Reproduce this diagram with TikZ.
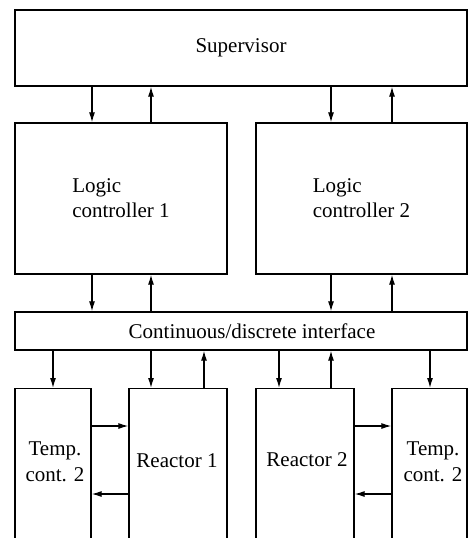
\documentclass[tikz,border=0pt]{standalone}
\usepackage{fontspec}
\setmainfont{Liberation Serif}
\usetikzlibrary{arrows.meta,positioning}
\tikzset{
	block/.style={
		draw,
		line width=1.3pt,
		inner sep=0pt,
		font=\fontsize{21}{25}\selectfont
	},
	txt/.style={
		inner sep=0pt,
		align=center,
		font=\fontsize{21}{25.5}\selectfont
	},
	every edge/.style={
		draw,
		-{Latex[length=10pt,width=6pt]},
		line width=1.2pt
	}
}

\begin{document}
\begin{tikzpicture}[x=1pt,y=1pt]
	\useasboundingbox (0,0) rectangle (468,-538);
	\clip (0,0) rectangle (468,-538);

	% columns of the signal lines
	\coordinate (a) at (53,0);
	\coordinate (b) at (92,0);
	\coordinate (c) at (151,0);
	\coordinate (d) at (204,0);
	\coordinate (e) at (279,0);
	\coordinate (f) at (331,0);
	\coordinate (g) at (392,0);
	\coordinate (h) at (430,0);
	\coordinate (up) at (0,-426);
	\coordinate (lo) at (0,-494);

	\node[block, minimum width=452pt, minimum height=76pt] (sup) at (241,-48) {Supervisor};
	\node[block, minimum width=212pt, minimum height=151pt, align=left] (lc1) at (121,-198.5) {Logic\\controller 1};
	\node[block, minimum width=211pt, minimum height=151pt, align=left] (lc2) at (361.5,-198.5) {Logic\\controller 2};
	\node[block, minimum width=452pt, minimum height=38pt] (iface) at (241,-331) {\hspace{22pt}Continuous/discrete interface};

	% plant blocks run off the bottom
	\node[block, minimum width=76pt, minimum height=250pt, anchor=north] (temp1) at (53,-388) {};
	\node[block, minimum width=98pt, minimum height=250pt, anchor=north] (reac1) at (178,-388) {};
	\node[block, minimum width=98pt, minimum height=250pt, anchor=north] (reac2) at (305,-388) {};
	\node[block, minimum width=75pt, minimum height=250pt, anchor=north] (temp2) at (429.5,-388) {};
	\node[txt] (temp1t) at (55,-462) {Temp.\\cont. 2};
	\node[txt] (reac1t) at (177,-461) {Reactor 1};
	\node[txt] (reac2t) at (307,-460) {Reactor 2};
	\node[txt] (temp2t) at (433,-462) {Temp.\\cont. 2};

	\draw (sup.south -| b) edge (lc1.north -| b);
	\draw (lc1.north -| c) edge (sup.south -| c);
	\draw (sup.south -| f) edge (lc2.north -| f);
	\draw (lc2.north -| g) edge (sup.south -| g);

	\draw (lc1.south -| b) edge (iface.north -| b);
	\draw (iface.north -| c) edge (lc1.south -| c);
	\draw (lc2.south -| f) edge (iface.north -| f);
	\draw (iface.north -| g) edge (lc2.south -| g);

	\draw (iface.south -| a) edge (temp1.north -| a);
	\draw (iface.south -| c) edge (reac1.north -| c);
	\draw (reac1.north -| d) edge (iface.south -| d);
	\draw (iface.south -| e) edge (reac2.north -| e);
	\draw (reac2.north -| f) edge (iface.south -| f);
	\draw (iface.south -| h) edge (temp2.north -| h);

	\draw (temp1.east |- up) edge (reac1.west |- up);
	\draw (reac1.west |- lo) edge (temp1.east |- lo);
	\draw (reac2.east |- up) edge (temp2.west |- up);
	\draw (temp2.west |- lo) edge (reac2.east |- lo);
\end{tikzpicture}
\end{document}
